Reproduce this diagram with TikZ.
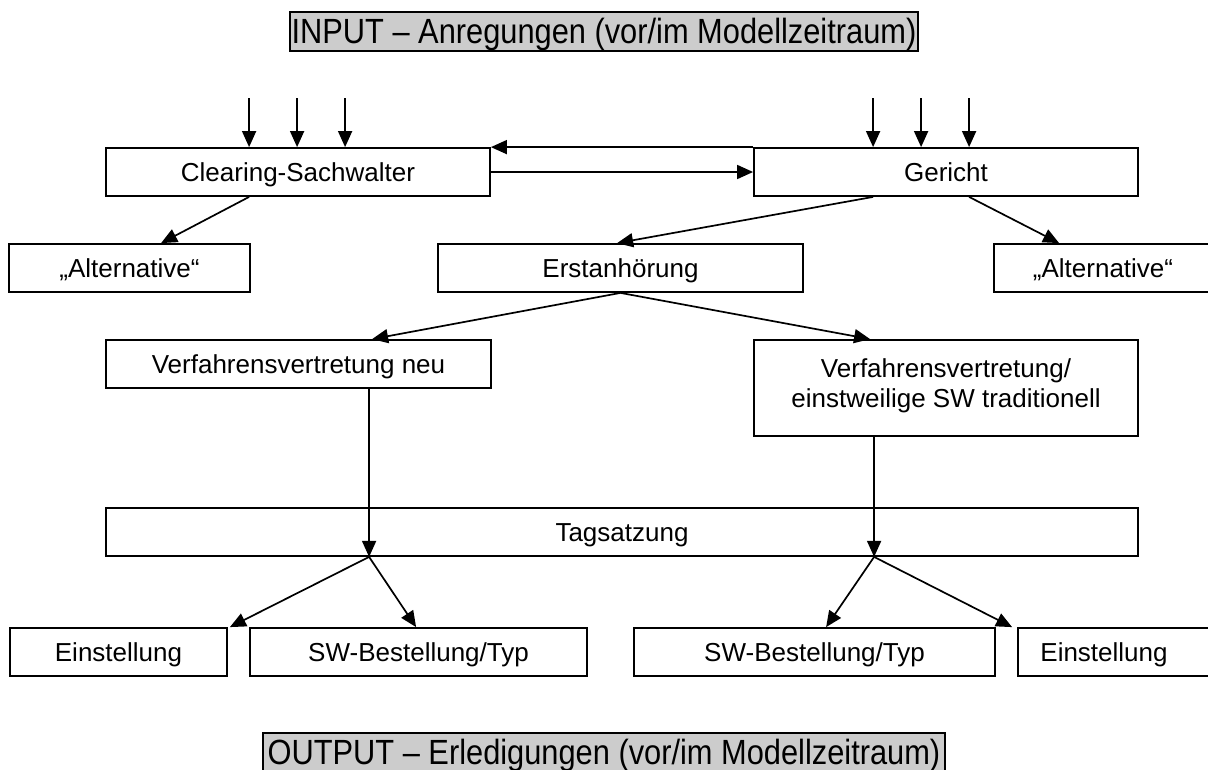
\documentclass[tikz,border=0pt]{standalone}
\usepackage{fontspec}
\setmainfont{Liberation Sans}
\usetikzlibrary{arrows.meta,calc}
\definecolor{titlegray}{RGB}{204,204,204}
\newcommand{\narrowtext}[1]{\scalebox{0.88}[1]{#1}}
\begin{document}
\begin{tikzpicture}[x=1pt,y=-1pt,
  box/.style={draw, line width=1.8pt, inner sep=0pt, minimum height=48pt,
    text height=18.7pt, text depth=0pt, font=\fontsize{26}{30}\selectfont},
  titlebox/.style={draw, line width=1.8pt, fill=titlegray, inner sep=0pt,
    text height=25pt, text depth=2pt, font=\fontsize{35}{40}\selectfont},
  arr/.style={line width=1.7pt, -{Triangle[length=16pt,width=14pt]}},
  ]
\useasboundingbox (0,0) rectangle (1208,769);
\clip (0,0) rectangle (1208,769);

% titles
\node[titlebox, minimum width=628pt, minimum height=39pt] (inp) at (604,31.5)
  {\narrowtext{INPUT – Anregungen (vor/im Modellzeitraum)}};
\node[titlebox, minimum width=682pt, minimum height=39pt] (outp) at (604,752.5)
  {\narrowtext{OUTPUT – Erledigungen (vor/im Modellzeitraum)}};

% boxes
\node[box, minimum width=384pt] (clear) at (298,172) {Clearing-Sachwalter};
\node[box, minimum width=384pt] (ger) at (946,172) {Gericht};
\node[box, minimum width=241pt] (altl) at (129.5,268) {„Alternative“};
\node[box, minimum width=365pt] (erst) at (620.5,268) {Erstanhörung};
\node[box, minimum width=218pt] (altr) at (1103,268) {„Alternative“};
\node[box, minimum width=385pt] (vneu) at (298.5,364) {Verfahrensvertretung neu};
\node[box, minimum width=384pt, minimum height=96pt, align=center,
  text height=49pt, text depth=11pt] (vtrad) at (946,388)
  {Verfahrensvertretung/\\einstweilige SW traditionell};
\node[box, minimum width=1032pt] (tags) at (622,532) {Tagsatzung};
\node[box, minimum width=217pt] (einl) at (118.5,652) {Einstellung};
\node[box, minimum width=337pt] (swl) at (418.5,652) {SW-Bestellung/Typ};
\node[box, minimum width=361pt] (swr) at (814.5,652) {SW-Bestellung/Typ};
\node[box, minimum width=197pt] (einr) at (1116.5,652) {Einstellung\hspace*{25pt}};

% input arrows
\foreach \dx/\n in {144/a,192/b,240/c}{
  \coordinate (ci\n) at ($(clear.north west)+(\dx,-49)$);
  \draw[arr] (ci\n) -- ($(clear.north west)+(\dx,0)$);
}
\foreach \dx/\n in {120/a,168/b,216/c}{
  \coordinate (gi\n) at ($(ger.north west)+(\dx,-49)$);
  \draw[arr] (gi\n) -- ($(ger.north west)+(\dx,0)$);
}

% between clearing and gericht
\draw[arr] (ger.north west) -- (clear.north east);
\draw[arr] (clear.east) -- (ger.west);

% to alternatives and Erstanhoerung
\draw[arr] ($(clear.south west)+(144,0)$) -- ($(altl.north west)+(153,0)$);
\draw[arr] ($(ger.south west)+(216,0)$) -- ($(altr.north west)+(66,0)$);
\draw[arr] ($(ger.south west)+(120,0)$) -- ($(erst.north west)+(180,0)$);

% Erstanhoerung to representation boxes
\draw[arr] (erst.south) -- ($(vneu.north west)+(267,0)$);
\draw[arr] (erst.south) -- ($(vtrad.north west)+(117,0)$);

% down to Tagsatzung
\coordinate (v1) at ($(vneu.south west)+(264,0)$);
\coordinate (j1) at (v1 |- tags.south);
\coordinate (v2) at ($(vtrad.south west)+(121,0)$);
\coordinate (j2) at (v2 |- tags.south);
\draw[arr] (v1) -- (j1);
\draw[arr] (v2) -- (j2);

% outputs
\draw[arr] (j1) -- ($(einl.north east)+(2,0)$);
\draw[arr] (j1) -- ($(swl.north west)+(167,0)$);
\draw[arr] (j2) -- ($(swr.north west)+(193,0)$);
\draw[arr] (j2) -- ($(einr.north west)+(-5,0)$);
\end{tikzpicture}
\end{document}
